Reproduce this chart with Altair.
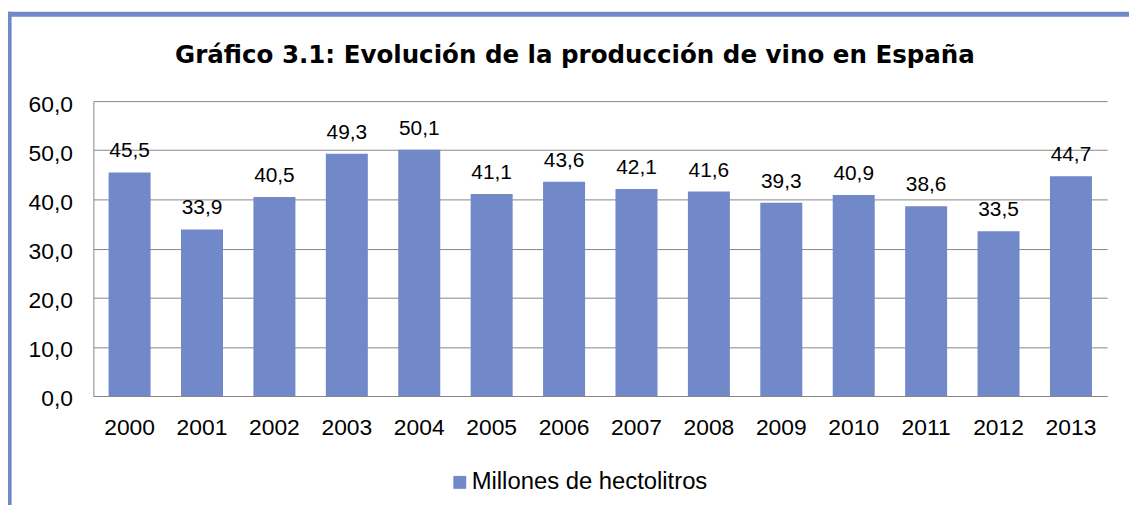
import altair as alt
import pandas as pd

years = ["2000", "2001", "2002", "2003", "2004", "2005", "2006",
         "2007", "2008", "2009", "2010", "2011", "2012", "2013"]
values = [45.5, 33.9, 40.5, 49.3, 50.1, 41.1, 43.6,
          42.1, 41.6, 39.3, 40.9, 38.6, 33.5, 44.7]
series_name = "Millones de hectolitros"
y_ticks = [0, 10, 20, 30, 40, 50, 60]
title_text = "Gráfico 3.1: Evolución de la producción de vino en España"

df = pd.DataFrame({"year": years, "value": values, "serie": [series_name] * len(years)})

BLUE = "#7189C8"
GRID = "#878787"
FONT = "Liberation Sans"
W, H = 1021, 297

x_enc = alt.X(
    "year:N",
    sort=years,
    scale=alt.Scale(paddingInner=0.42, paddingOuter=0.21),
    axis=alt.Axis(title=None, labelAngle=0, ticks=False, domain=True, domainColor=GRID,
                  labelFontSize=23, labelFont=FONT, labelColor="#000000", labelPadding=21),
)
y_enc = alt.Y(
    "value:Q",
    scale=alt.Scale(domain=[0, 60], nice=False),
    axis=alt.Axis(title=None, values=y_ticks, grid=True, gridColor=GRID, gridOpacity=1,
                  domain=True, domainColor=GRID, ticks=False,
                  labelExpr="replace(format(datum.value, '.1f'), '.', ',')",
                  labelFontSize=23, labelFont=FONT, labelColor="#000000", labelPadding=21,
                  labelOffset=3),
)

bars = alt.Chart(df).mark_bar().encode(
    x=x_enc,
    y=y_enc,
    color=alt.Color(
        "serie:N",
        scale=alt.Scale(range=[BLUE]),
        legend=alt.Legend(title=None, orient="none", legendX=357, legendY=372,
                          symbolType="square", symbolSize=169, symbolStrokeWidth=0,
                          labelFontSize=24, labelFont=FONT, labelColor="#000000",
                          labelOffset=0, padding=0, labelLimit=400),
    ),
)

labels = alt.Chart(df).transform_calculate(
    lab="replace(format(datum.value, '.1f'), '.', ',')"
).mark_text(baseline="alphabetic", dy=-15, fontSize=21, font=FONT, color="#000000").encode(
    x=alt.X("year:N", sort=years),
    y=alt.Y("value:Q"),
    text="lab:N",
)

one = pd.DataFrame({"k": [0]})
frame_left = alt.Chart(one).mark_rule(color=BLUE, strokeWidth=4.7).encode(
    x=alt.value(-84.7), y=alt.value(-90), y2=alt.value(420)
)
frame_top = alt.Chart(one).mark_rule(color=BLUE, strokeWidth=5).encode(
    x=alt.value(-87), x2=alt.value(1060), y=alt.value(-87.5)
)
title_mark = alt.Chart(one).mark_text(
    text=title_text, fontSize=24.7, font="DejaVu Sans", fontWeight="bold", color="#000000",
    align="center", baseline="alphabetic"
).encode(x=alt.value(485), y=alt.value(-38))

chart = alt.layer(bars, labels, frame_left, frame_top, title_mark).properties(
    width=W,
    height=H,
    padding={"left": 86, "top": 92, "right": 22, "bottom": 108},
    autosize=alt.AutoSizeParams(type="none"),
).configure_view(stroke=None)

chart.save("out.html", embed_options={"renderer": "svg", "actions": False})
